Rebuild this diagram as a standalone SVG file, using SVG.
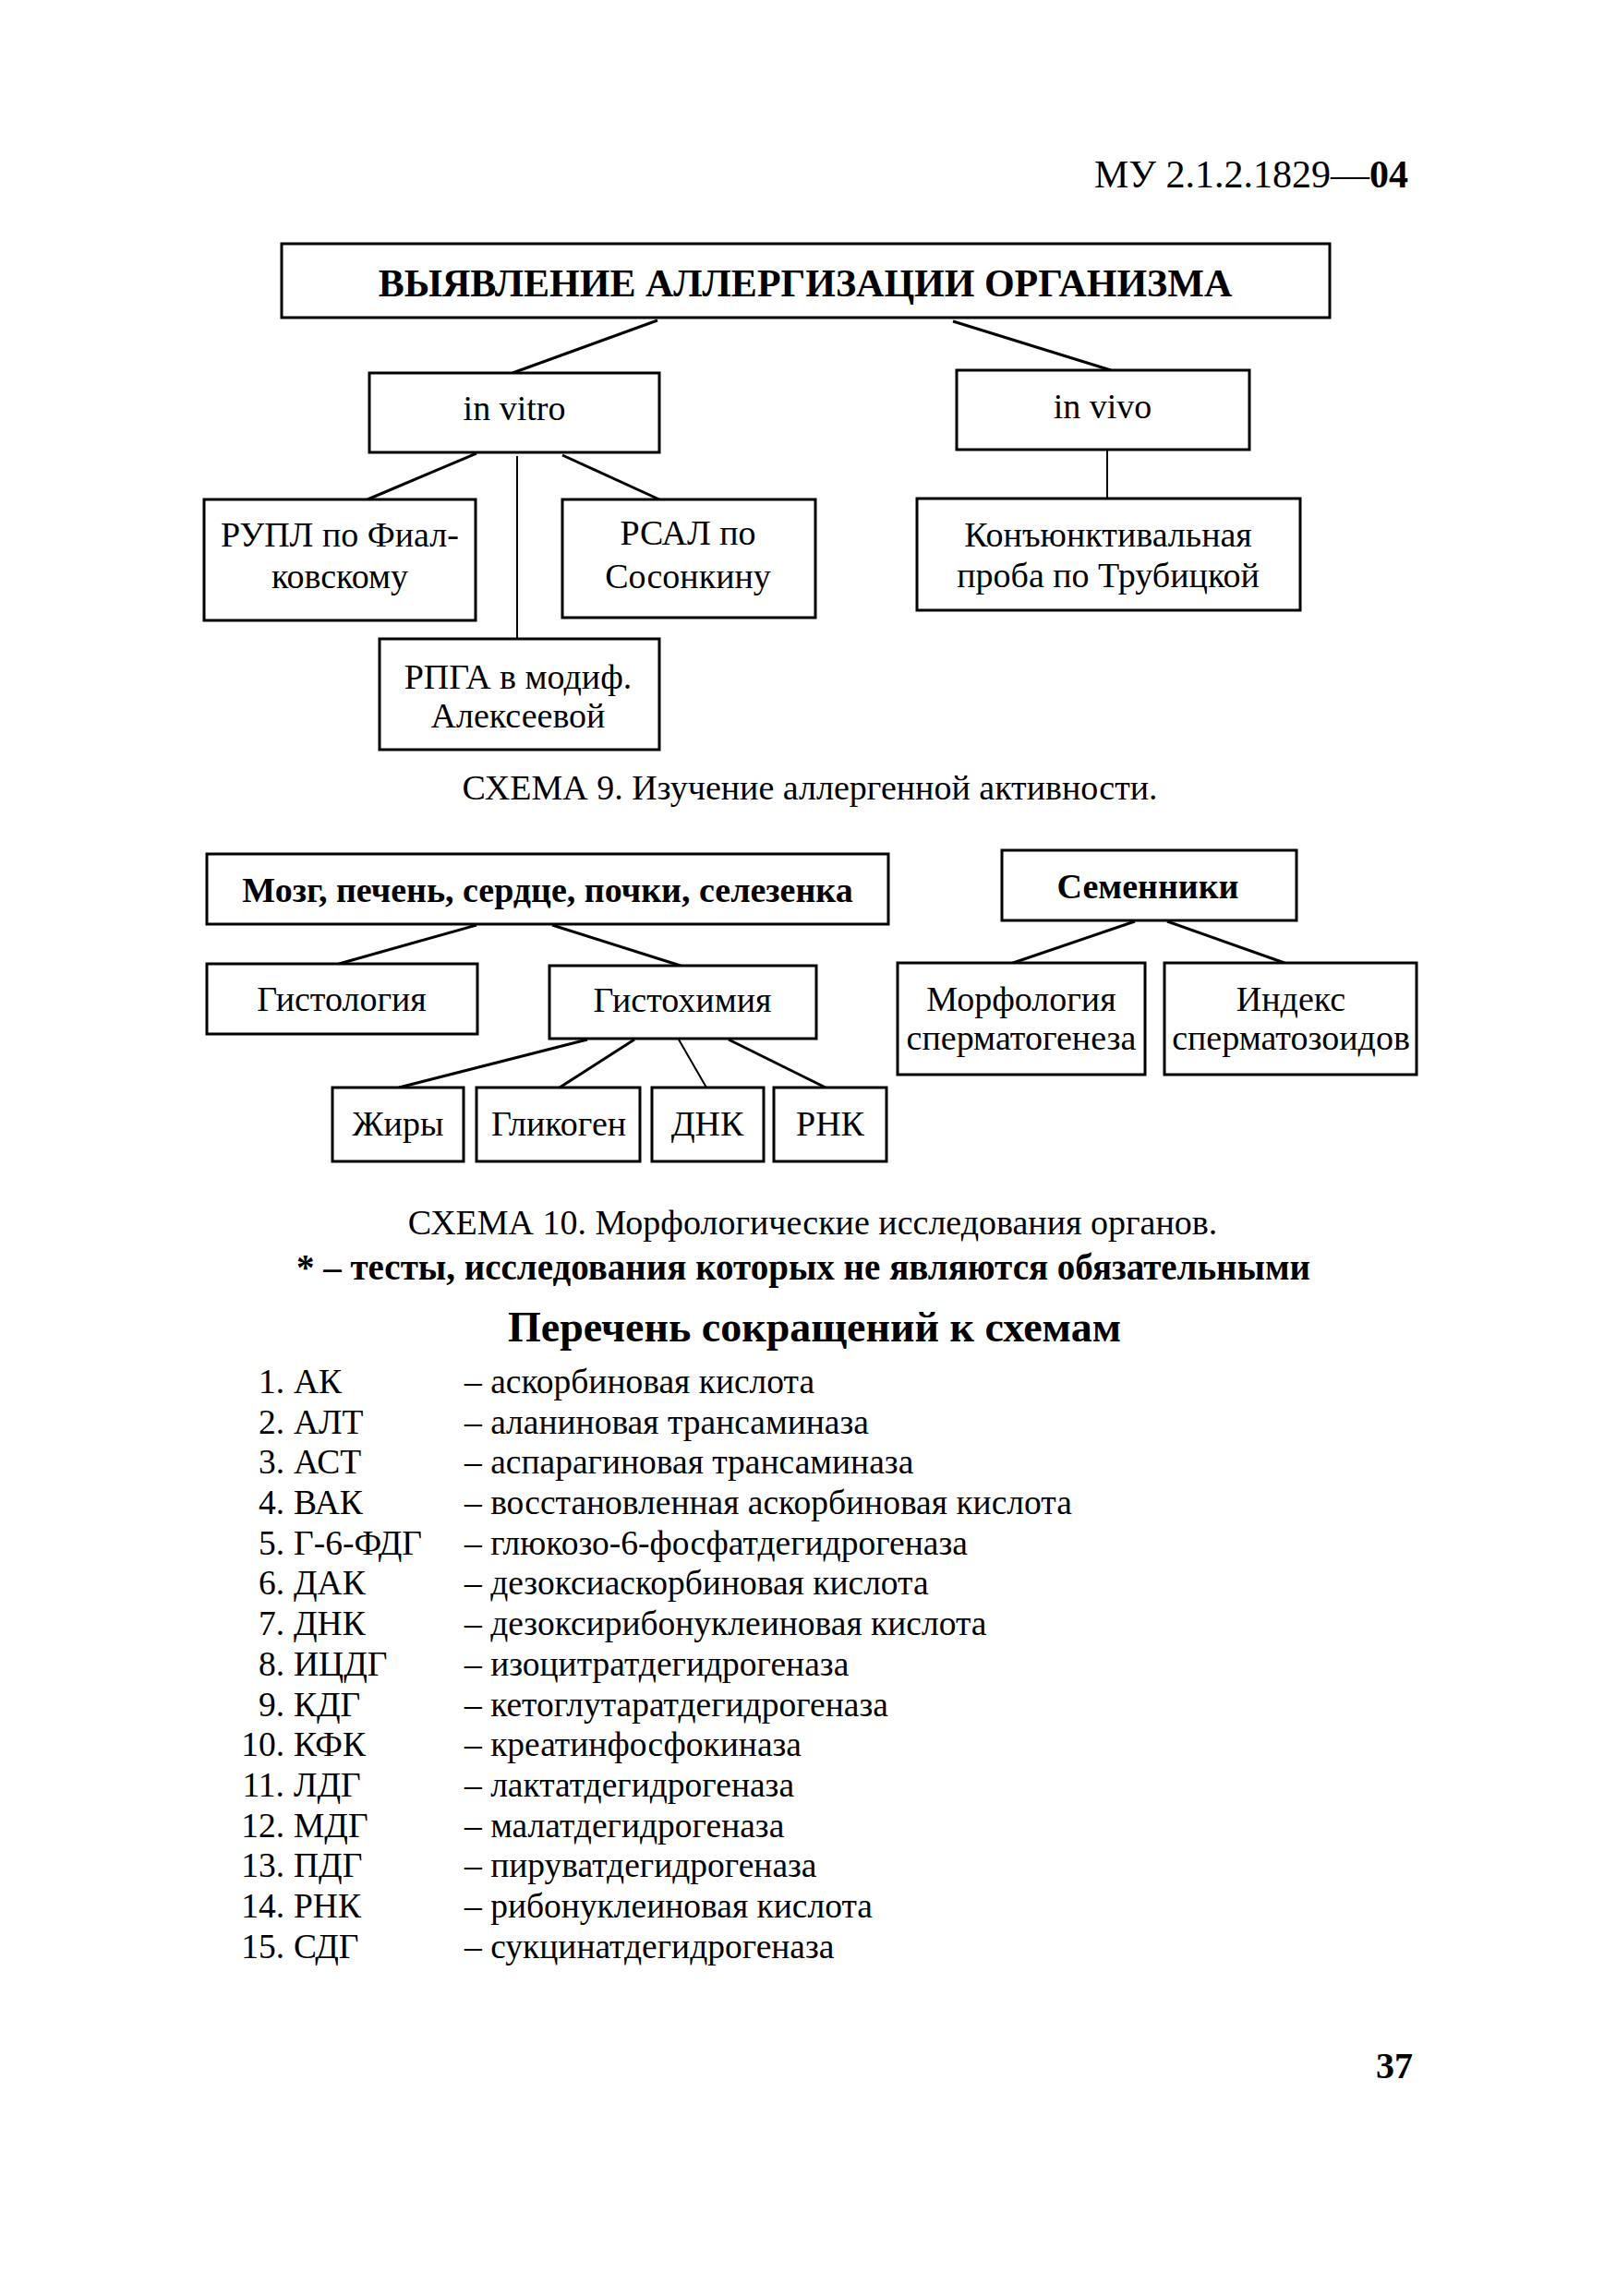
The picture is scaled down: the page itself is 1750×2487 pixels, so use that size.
<svg xmlns="http://www.w3.org/2000/svg" width="1750" height="2487" viewBox="0 0 1750 2487">
<style>
text{font-family:"Liberation Serif","Times New Roman",serif;fill:#000}
.b{font-weight:bold}
.c{text-anchor:middle}
.e{text-anchor:end}
.box{fill:#fff;stroke:#000;stroke-width:3}
.ln{stroke:#000;stroke-width:3;fill:none}
.t{font-size:38px}
.l{font-size:37.5px}
.cap{font-size:38px}
</style>
<rect width="1750" height="2487" fill="#fff"/>
<text x="1185" y="203" font-size="42">МУ 2.1.2.1829—<tspan class="b">04</tspan></text>

<g id="connectors">
<line class="ln" x1="712" y1="347" x2="555" y2="404"/>
<line class="ln" x1="1032" y1="348" x2="1203" y2="401"/>
<line class="ln" x1="516" y1="491" x2="398" y2="541"/>
<line class="ln" x1="560" y1="494" x2="560" y2="692" style="stroke-width:2"/>
<line class="ln" x1="609" y1="493" x2="714" y2="541"/>
<line class="ln" x1="1199" y1="488" x2="1199" y2="540" style="stroke-width:2"/>
<line class="ln" x1="516" y1="1002" x2="367" y2="1044"/>
<line class="ln" x1="598" y1="1002" x2="737" y2="1046"/>
<line class="ln" x1="1229" y1="998" x2="1097" y2="1043"/>
<line class="ln" x1="1264" y1="998" x2="1391" y2="1043"/>
<line class="ln" x1="636" y1="1126" x2="432" y2="1178"/>
<line class="ln" x1="687" y1="1126" x2="606" y2="1178"/>
<line class="ln" x1="735" y1="1126" x2="765" y2="1178" style="stroke-width:2"/>
<line class="ln" x1="789" y1="1126" x2="894" y2="1178"/>
</g>

<g id="n-title"><rect class="box" x="305" y="264" width="1135" height="80"/><text class="b c" x="872" y="321" font-size="42">ВЫЯВЛЕНИЕ АЛЛЕРГИЗАЦИИ ОРГАНИЗМА</text></g>
<g id="n-invitro"><rect class="box" x="400" y="404" width="314" height="86"/><text class="c t" x="557" y="455">in vitro</text></g>
<g id="n-invivo"><rect class="box" x="1036" y="401" width="317" height="86"/><text class="c t" x="1194" y="453">in vivo</text></g>
<g id="n-rupl"><rect class="box" x="221" y="541" width="294" height="131"/><text class="c t" x="368" y="592">РУПЛ по Фиал-</text><text class="c t" x="368" y="637">ковскому</text></g>
<g id="n-rsal"><rect class="box" x="609" y="541" width="274" height="128"/><text class="c t" x="745" y="590">РСАЛ по</text><text class="c t" x="745" y="637">Сосонкину</text></g>
<g id="n-konj"><rect class="box" x="993" y="540" width="415" height="121"/><text class="c t" x="1200" y="592">Конъюнктивальная</text><text class="c t" x="1200" y="636">проба по Трубицкой</text></g>
<g id="n-rpga"><rect class="box" x="411" y="692" width="303" height="120"/><text class="c t" x="561" y="746">РПГА в модиф.</text><text class="c t" x="561" y="788">Алексеевой</text></g>

<text class="c cap" x="877" y="866">СХЕМА 9. Изучение аллергенной активности.</text>

<g id="n-organs"><rect class="box" x="224" y="925" width="738" height="76"/><text class="b c" x="593" y="977" font-size="38">Мозг, печень, сердце, почки, селезенка</text></g>
<g id="n-semen"><rect class="box" x="1085" y="921" width="319" height="76"/><text class="b c" x="1243" y="973" font-size="38">Семенники</text></g>
<g id="n-histol"><rect class="box" x="224" y="1044" width="293" height="76"/><text class="c t" x="370" y="1095">Гистология</text></g>
<g id="n-histoch"><rect class="box" x="595" y="1046" width="289" height="79"/><text class="c t" x="739" y="1096">Гистохимия</text></g>
<g id="n-morph"><rect class="box" x="972" y="1043" width="268" height="121"/><text class="c t" x="1106" y="1095">Морфология</text><text class="c t" x="1106" y="1137">сперматогенеза</text></g>
<g id="n-index"><rect class="box" x="1261" y="1043" width="273" height="121"/><text class="c t" x="1398" y="1095">Индекс</text><text class="c t" x="1398" y="1137">сперматозоидов</text></g>
<g id="n-fat"><rect class="box" x="360" y="1178" width="142" height="80"/><text class="c t" x="431" y="1230">Жиры</text></g>
<g id="n-glyc"><rect class="box" x="516" y="1178" width="177" height="80"/><text class="c t" x="605" y="1230">Гликоген</text></g>
<g id="n-dna"><rect class="box" x="706" y="1178" width="121" height="80"/><text class="c t" x="766" y="1230">ДНК</text></g>
<g id="n-rna"><rect class="box" x="838" y="1178" width="122" height="80"/><text class="c t" x="899" y="1230">РНК</text></g>

<text class="c cap" x="880" y="1337">СХЕМА 10. Морфологические исследования органов.</text>
<text class="b c" x="870" y="1386" font-size="39">* – тесты, исследования которых не являются обязательными</text>
<text class="b c" x="882" y="1453" font-size="46">Перечень сокращений к схемам</text>

<g class="l">
<text class="e" x="308" y="1509">1.</text><text x="318" y="1509">АК</text><text x="503" y="1509">– аскорбиновая кислота</text>
<text class="e" x="308" y="1553">2.</text><text x="318" y="1553">АЛТ</text><text x="503" y="1553">– аланиновая трансаминаза</text>
<text class="e" x="308" y="1596">3.</text><text x="318" y="1596">АСТ</text><text x="503" y="1596">– аспарагиновая трансаминаза</text>
<text class="e" x="308" y="1640">4.</text><text x="318" y="1640">ВАК</text><text x="503" y="1640">– восстановленная аскорбиновая кислота</text>
<text class="e" x="308" y="1684">5.</text><text x="318" y="1684">Г-6-ФДГ</text><text x="503" y="1684">– глюкозо-6-фосфатдегидрогеназа</text>
<text class="e" x="308" y="1727">6.</text><text x="318" y="1727">ДАК</text><text x="503" y="1727">– дезоксиаскорбиновая кислота</text>
<text class="e" x="308" y="1771">7.</text><text x="318" y="1771">ДНК</text><text x="503" y="1771">– дезоксирибонуклеиновая кислота</text>
<text class="e" x="308" y="1815">8.</text><text x="318" y="1815">ИЦДГ</text><text x="503" y="1815">– изоцитратдегидрогеназа</text>
<text class="e" x="308" y="1859">9.</text><text x="318" y="1859">КДГ</text><text x="503" y="1859">– кетоглутаратдегидрогеназа</text>
<text class="e" x="308" y="1902">10.</text><text x="318" y="1902">КФК</text><text x="503" y="1902">– креатинфосфокиназа</text>
<text class="e" x="308" y="1946">11.</text><text x="318" y="1946">ЛДГ</text><text x="503" y="1946">– лактатдегидрогеназа</text>
<text class="e" x="308" y="1990">12.</text><text x="318" y="1990">МДГ</text><text x="503" y="1990">– малатдегидрогеназа</text>
<text class="e" x="308" y="2033">13.</text><text x="318" y="2033">ПДГ</text><text x="503" y="2033">– пируватдегидрогеназа</text>
<text class="e" x="308" y="2077">14.</text><text x="318" y="2077">РНК</text><text x="503" y="2077">– рибонуклеиновая кислота</text>
<text class="e" x="308" y="2121">15.</text><text x="318" y="2121">СДГ</text><text x="503" y="2121">– сукцинатдегидрогеназа</text>
</g>

<text class="b e" x="1530" y="2251" font-size="40">37</text>
</svg>
